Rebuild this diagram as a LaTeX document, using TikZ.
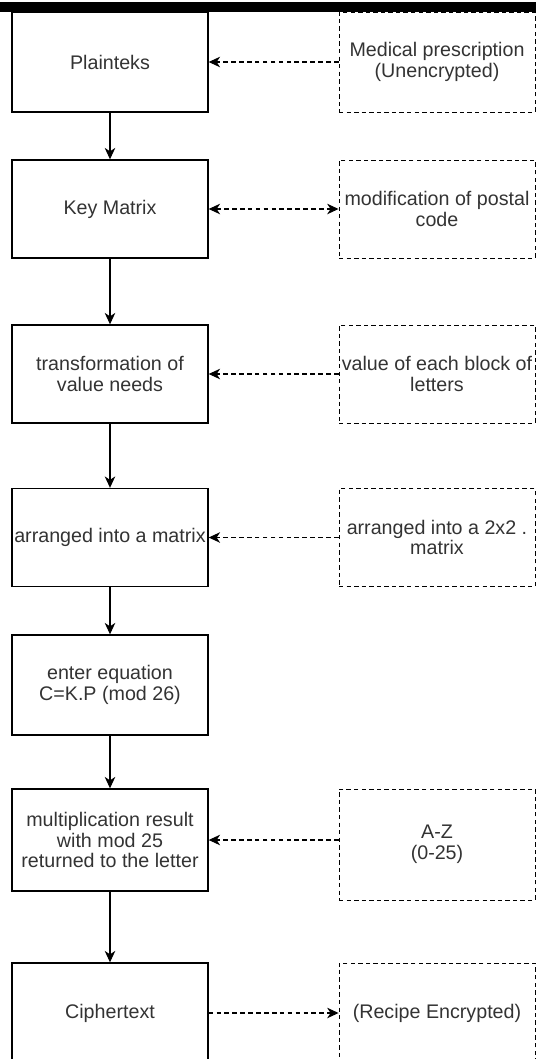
\documentclass[tikz,border=0pt]{standalone}
\usepackage{fontspec}
\setmainfont{Liberation Sans}
\usetikzlibrary{arrows.meta}

\tikzset{
  stepbox/.style={draw, line width=0.8pt, minimum width=3.92cm, minimum height=1.96cm,
    align=center, text=black!80, font=\fontsize{11.2}{11.8}\selectfont, inner sep=1pt},
  databox/.style={stepbox, line width=0.55pt, dash pattern=on 2.5pt off 1.8pt},
  tip/.tip={Stealth[length=6.5pt,width=6pt,inset=2pt]},
  flow/.style={-tip, line width=0.6pt},
  link/.style={flow, dash pattern=on 2.6pt off 1.9pt},
  twoway/.style={link, tip-tip},
}

\begin{document}
\begin{tikzpicture}[x=0.02cm, y=-0.02cm]
  \useasboundingbox (0,0) rectangle (536,1059);
  \clip (0,0) rectangle (536,1059);
  \fill (0,2) rectangle (536,12);

  % steps
  \node[stepbox, minimum height=2cm] (plain) at (110,62) {Plainteks};
  \node[stepbox] (key) at (110,209) {Key Matrix};
  \node[stepbox] (trans) at (110,374) {transformation of\\value needs};
  \node[stepbox] (arr) at (110,537.5) {arranged into a matrix};
  \node[stepbox, minimum height=2cm] (eq) at (110,685) {enter equation\\C=K.P (mod 26)};
  \node[stepbox, minimum height=2.04cm] (mult) at (110,840) {multiplication result\\with mod 25\\returned to the letter};
  \node[stepbox, minimum height=2cm] (cipher) at (110,1013) {Ciphertext};

  % inputs / outputs
  \node[databox, minimum height=2cm] (presc) at (437,62) {Medical prescription\\(Unencrypted)};
  \node[databox] (postal) at (437,209) {modification of postal\\code};
  \node[databox] (block) at (437,374) {value of each block of\\letters};
  \node[databox] (twotwo) at (437,537.5) {arranged into a 2x2 .\\matrix};
  \node[databox, minimum height=2.22cm] (az) at (437,844.5) {A-Z\\(0-25)};
  \node[databox, minimum height=2cm] (recipe) at (437,1013) {(Recipe Encrypted)};

  \draw[flow] (plain) -- (key);
  \draw[flow] (key) -- (trans);
  \draw[flow] (trans) -- (arr);
  \draw[flow] (arr) -- (eq);
  \draw[flow] (eq) -- (mult);
  \draw[flow] (mult) -- (cipher);

  \draw[link] (presc) -- (plain);
  \draw[twoway] (key) -- (postal);
  \draw[link] (block) -- (trans);
  \draw[link] (twotwo) -- (arr);
  \draw[link] (az.west |- mult.east) -- (mult.east);
  \draw[link] (cipher) -- (recipe);
\end{tikzpicture}
\end{document}
